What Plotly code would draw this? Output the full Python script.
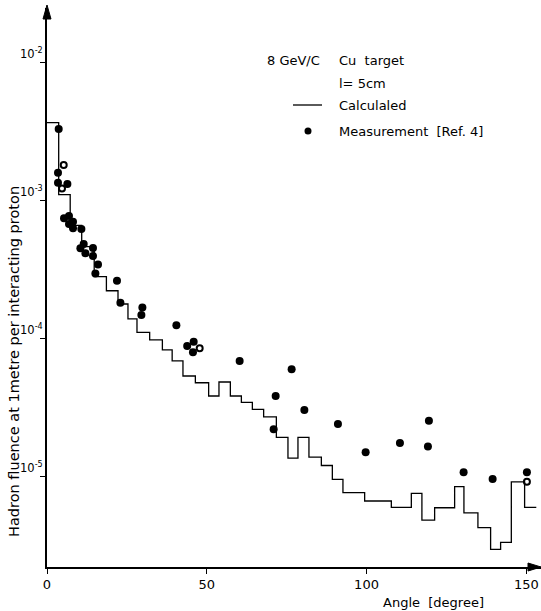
import math
import plotly.graph_objects as go

# ---- data ----
# calculated histogram: bin edges (degree) and fluence per bin
calc_edges = [0.0, 3.66, 7.26, 10.86, 14.77, 18.59, 22.22, 25.34, 28.16, 32.13,
              36.11, 39.17, 42.55, 46.43, 50.59, 53.82, 57.38, 60.83, 64.27, 67.80,
              71.78, 75.41, 78.54, 81.98, 85.86, 89.30, 92.62, 99.41, 107.76, 114.02,
              117.33, 121.31, 127.57, 130.48, 134.86, 138.83, 141.96, 145.31, 149.47, 153.13]
calc_values = [3.64e-3, 1.10e-3, 6.6e-4, 4.62e-4, 2.81e-4, 2.22e-4, 1.78e-4, 1.39e-4, 1.11e-4,
               9.8e-5, 8.3e-5, 6.9e-5, 5.37e-5, 4.8e-5, 3.85e-5, 4.86e-5, 3.85e-5, 3.46e-5,
               3.08e-5, 2.72e-5, 1.93e-5, 1.37e-5, 1.93e-5, 1.39e-5, 1.21e-5, 9.6e-6, 7.7e-6,
               6.7e-6, 6.03e-6, 7.6e-6, 4.88e-6, 5.99e-6, 8.5e-6, 5.5e-6, 4.3e-6, 3.0e-6,
               3.37e-6, 9.2e-6, 6.03e-6]

# measurements (filled dots)
meas_angle = [3.66, 3.44, 3.44, 6.38, 5.32, 6.88, 6.88, 8.14, 8.14, 10.76, 10.45, 11.48,
              12.02, 14.39, 14.39, 15.96, 15.14, 21.90, 22.97, 29.85, 29.54, 40.49, 43.87,
              45.90, 45.68, 60.29, 76.56, 71.56, 70.93, 80.54, 91.05, 99.72, 110.45,
              119.52, 119.21, 130.38, 139.46, 150.19]
meas_fluence = [3.28e-3, 1.58e-3, 1.34e-3, 1.31e-3, 7.41e-4, 7.69e-4, 6.74e-4, 7.00e-4,
                6.28e-4, 6.20e-4, 4.50e-4, 4.83e-4, 4.14e-4, 4.52e-4, 3.96e-4, 3.44e-4,
                2.96e-4, 2.62e-4, 1.82e-4, 1.68e-4, 1.48e-4, 1.25e-4, 8.83e-5, 9.50e-5,
                7.97e-5, 6.89e-5, 6.00e-5, 3.85e-5, 2.21e-5, 3.05e-5, 2.41e-5, 1.51e-5,
                1.76e-5, 2.55e-5, 1.66e-5, 1.08e-5, 9.66e-6, 1.08e-5]
# measurements drawn as small open circles
open_angle = [5.23, 4.69, 47.78, 150.19]
open_fluence = [1.80e-3, 1.22e-3, 8.51e-5, 9.23e-6]

x_ticks = [0, 50, 100, 150]
y_ticks = [1e-2, 1e-3, 1e-4, 1e-5]
y_tick_text = ["10<sup>-2</sup>", "10<sup>-3</sup>", "10<sup>-4</sup>", "10<sup>-5</sup>"]

FONT = "DejaVu Sans"

fig = go.Figure()
fig.add_trace(go.Scatter(
    x=calc_edges, y=calc_values + [calc_values[-1]], mode="lines",
    line=dict(shape="hv", color="black", width=1.3), showlegend=False))
fig.add_trace(go.Scatter(
    x=meas_angle, y=meas_fluence, mode="markers",
    marker=dict(symbol="circle", size=8, color="black"), showlegend=False))
fig.add_trace(go.Scatter(
    x=open_angle, y=open_fluence, mode="markers",
    marker=dict(symbol="circle-open", size=6, color="black", line=dict(width=2)),
    showlegend=False))

fig.update_layout(
    width=541, height=611,
    margin=dict(l=47, r=0, t=8, b=44),
    paper_bgcolor="white", plot_bgcolor="white",
    font=dict(family=FONT, size=13, color="black"),
    xaxis=dict(range=[0, 154.6], showline=True, linecolor="black", linewidth=1.5,
               ticks="outside", ticklen=5, tickwidth=1.2, tickcolor="black",
               tickvals=x_ticks, showgrid=False, zeroline=False,
               tickfont=dict(size=13)),
    yaxis=dict(type="log", range=[-5.651, -1.6095], showline=True, linecolor="black",
               linewidth=1.5, ticks="outside", ticklen=5, tickwidth=1.2,
               tickcolor="black", tickvals=y_ticks, showticklabels=False,
               showgrid=False, zeroline=False),
)


def px(xp):
    return (xp - 47) / 494


def py(yp):
    return (567 - yp) / 559


# y tick labels (placed slightly above the ticks as in the original)
for v, t in zip(y_ticks, y_tick_text):
    fig.add_annotation(x=0, xref="paper", y=math.log10(v), yref="y", text=t,
                       showarrow=False, xanchor="right", yanchor="middle",
                       xshift=-2, yshift=9, font=dict(size=11.5))

# axis arrowheads as filled triangles
fig.add_shape(type="path", xref="paper", yref="paper",
              path=f"M {px(541)} {py(567)} L {px(528)} {py(563)} L {px(528)} {py(571)} Z",
              fillcolor="black", line=dict(color="black", width=1))
fig.add_shape(type="path", xref="paper", yref="paper",
              path=f"M {px(47)} {py(5)} L {px(43)} {py(19)} L {px(51)} {py(19)} Z",
              fillcolor="black", line=dict(color="black", width=1))

# axis titles
fig.add_annotation(x=px(433), y=py(602), xref="paper", yref="paper",
                   text="Angle  [degree]", showarrow=False, xanchor="center",
                   yanchor="middle", font=dict(size=13))
fig.add_annotation(x=px(14), y=py(362), xref="paper", yref="paper",
                   text="Hadron fluence at 1metre per interacting proton",
                   textangle=-90, showarrow=False, xanchor="center", yanchor="middle",
                   font=dict(size=14.5))

# legend block
fig.add_annotation(x=px(265), y=py(60), xref="paper", yref="paper",
                   text="8 GeV/C", showarrow=False, xanchor="left", yanchor="middle")
fig.add_annotation(x=px(337), y=py(60), xref="paper", yref="paper",
                   text="Cu  target", showarrow=False, xanchor="left", yanchor="middle")
fig.add_annotation(x=px(337), y=py(83), xref="paper", yref="paper",
                   text="l= 5cm", showarrow=False, xanchor="left", yanchor="middle")
fig.add_annotation(x=px(337), y=py(105), xref="paper", yref="paper",
                   text="Calculaled", showarrow=False, xanchor="left", yanchor="middle")
fig.add_annotation(x=px(337), y=py(131), xref="paper", yref="paper",
                   text="Measurement  [Ref. 4]", showarrow=False, xanchor="left",
                   yanchor="middle")
fig.add_shape(type="line", xref="paper", yref="paper", x0=px(293), x1=px(322),
              y0=py(105), y1=py(105), line=dict(color="black", width=1.3))
fig.add_shape(type="circle", xref="paper", yref="paper",
              x0=px(304.5), x1=px(311.5), y0=py(127.5), y1=py(134.5),
              fillcolor="black", line=dict(color="black", width=0))

fig.write_html("out.html")
